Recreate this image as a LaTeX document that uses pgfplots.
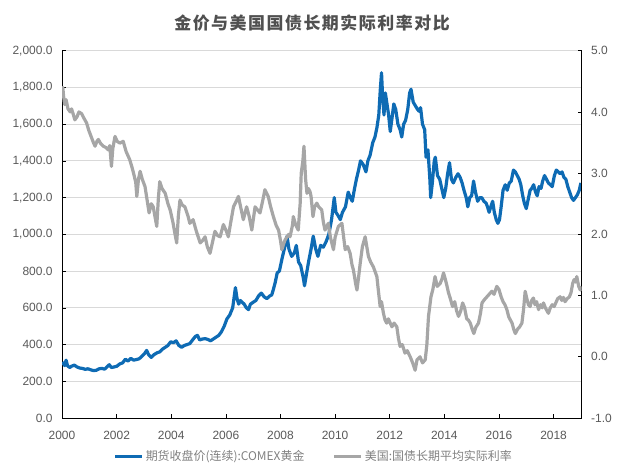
\documentclass[border=0pt]{standalone}
\usepackage{fontspec}
\setmainfont{Liberation Sans}
\newfontfamily\cjk{Noto Sans CJK SC}
\newfontfamily\cjktitle[LetterSpace=9]{Noto Sans CJK SC}
\usepackage{pgfplots}
\usepackage{pgfplotstable}
\pgfplotsset{compat=1.18}
\definecolor{goldblue}{RGB}{14,107,180}
\definecolor{rategray}{RGB}{166,166,166}
\definecolor{gridgray}{RGB}{217,217,217}
\definecolor{labelgray}{RGB}{89,89,89}
\definecolor{leggray}{RGB}{128,128,128}
\definecolor{titlegray}{RGB}{80,80,80}

\pgfplotstableread{
x y
2000.00 290
2000.05 300
2000.10 285
2000.15 315
2000.20 285
2000.28 275
2000.35 282
2000.45 288
2000.55 278
2000.65 272
2000.75 270
2000.85 265
2000.95 268
2001.06 262
2001.16 258
2001.26 260
2001.36 268
2001.46 270
2001.56 266
2001.66 280
2001.73 290
2001.81 275
2001.91 278
2002.01 282
2002.12 295
2002.22 300
2002.32 320
2002.42 310
2002.52 325
2002.62 315
2002.72 318
2002.82 322
2002.92 335
2003.02 350
2003.10 368
2003.17 345
2003.27 330
2003.37 345
2003.48 355
2003.58 360
2003.68 375
2003.78 385
2003.88 395
2003.98 415
2004.08 410
2004.18 420
2004.28 395
2004.38 385
2004.48 395
2004.58 400
2004.68 405
2004.78 425
2004.89 445
2004.96 450
2005.04 425
2005.14 430
2005.24 432
2005.34 428
2005.44 420
2005.54 430
2005.64 440
2005.74 450
2005.84 470
2005.94 500
2006.04 540
2006.14 560
2006.25 600
2006.35 710
2006.41 650
2006.47 620
2006.53 640
2006.60 630
2006.67 620
2006.75 600
2006.83 590
2006.90 620
2007.00 630
2007.10 640
2007.20 665
2007.30 680
2007.40 660
2007.50 650
2007.61 665
2007.68 670
2007.74 700
2007.81 740
2007.88 790
2007.96 800
2008.06 870
2008.14 920
2008.24 990
2008.31 920
2008.41 880
2008.51 900
2008.58 940
2008.66 850
2008.74 830
2008.84 760
2008.88 720
2008.97 800
2009.04 860
2009.12 920
2009.20 990
2009.29 920
2009.37 880
2009.47 940
2009.57 930
2009.67 960
2009.77 1000
2009.87 1080
2009.97 1200
2010.03 1120
2010.12 1100
2010.19 1080
2010.27 1120
2010.38 1150
2010.48 1230
2010.56 1200
2010.63 1180
2010.70 1240
2010.78 1300
2010.86 1350
2010.93 1400
2011.03 1380
2011.13 1340
2011.20 1400
2011.28 1430
2011.38 1500
2011.46 1530
2011.53 1580
2011.60 1650
2011.66 1800
2011.70 1880
2011.74 1750
2011.79 1650
2011.84 1770
2011.89 1720
2011.96 1650
2012.02 1560
2012.09 1640
2012.15 1710
2012.22 1680
2012.30 1600
2012.38 1570
2012.44 1530
2012.51 1600
2012.58 1620
2012.66 1680
2012.73 1770
2012.78 1790
2012.86 1720
2012.94 1700
2013.02 1680
2013.08 1670
2013.13 1690
2013.20 1600
2013.28 1570
2013.33 1420
2013.40 1460
2013.47 1300
2013.50 1200
2013.56 1280
2013.63 1400
2013.67 1420
2013.75 1320
2013.83 1300
2013.92 1240
2013.98 1200
2014.05 1250
2014.12 1330
2014.19 1390
2014.26 1300
2014.33 1280
2014.42 1310
2014.50 1330
2014.58 1310
2014.65 1280
2014.72 1240
2014.80 1200
2014.86 1150
2014.93 1200
2015.00 1210
2015.07 1290
2015.14 1230
2015.22 1180
2015.30 1200
2015.37 1200
2015.45 1180
2015.53 1170
2015.58 1150
2015.64 1120
2015.70 1150
2015.77 1180
2015.83 1120
2015.90 1080
2015.96 1060
2016.02 1080
2016.08 1150
2016.15 1240
2016.23 1270
2016.30 1240
2016.38 1280
2016.45 1290
2016.53 1350
2016.60 1340
2016.67 1320
2016.74 1300
2016.80 1270
2016.87 1210
2016.93 1170
2017.00 1140
2017.07 1190
2017.14 1240
2017.20 1250
2017.27 1270
2017.34 1230
2017.40 1210
2017.47 1260
2017.54 1250
2017.60 1290
2017.67 1320
2017.74 1300
2017.81 1280
2017.88 1270
2017.95 1260
2018.03 1320
2018.10 1350
2018.17 1340
2018.24 1330
2018.31 1340
2018.38 1310
2018.45 1300
2018.52 1260
2018.59 1230
2018.66 1200
2018.73 1185
2018.80 1200
2018.87 1215
2018.94 1240
2019.00 1280
}\golddata

\pgfplotstableread{
x y
2000.00 4.30
2000.03 4.40
2000.06 4.25
2000.10 4.12
2000.15 4.20
2000.22 4.05
2000.30 4.00
2000.35 4.05
2000.42 3.95
2000.47 3.87
2000.55 3.92
2000.62 4.00
2000.72 3.97
2000.80 3.90
2000.90 3.82
2000.98 3.70
2001.09 3.57
2001.15 3.50
2001.21 3.44
2001.28 3.52
2001.33 3.55
2001.42 3.48
2001.51 3.44
2001.60 3.42
2001.69 3.38
2001.75 3.45
2001.81 3.11
2001.86 3.40
2001.94 3.60
2002.02 3.52
2002.12 3.49
2002.24 3.52
2002.35 3.35
2002.48 3.22
2002.56 3.10
2002.62 3.00
2002.70 2.85
2002.74 2.62
2002.80 2.90
2002.86 3.03
2002.94 2.90
2003.04 2.78
2003.12 2.55
2003.19 2.35
2003.27 2.50
2003.34 2.45
2003.40 2.30
2003.47 2.13
2003.53 2.60
2003.58 2.86
2003.66 2.75
2003.78 2.67
2003.88 2.50
2003.96 2.40
2004.06 2.20
2004.14 2.00
2004.20 1.86
2004.26 2.30
2004.32 2.56
2004.40 2.48
2004.50 2.45
2004.62 2.29
2004.68 2.18
2004.80 2.24
2004.92 2.05
2005.06 1.86
2005.15 1.90
2005.24 1.96
2005.32 1.80
2005.42 1.69
2005.50 1.85
2005.60 2.05
2005.70 1.98
2005.79 1.96
2005.91 2.16
2006.02 2.05
2006.09 1.96
2006.18 2.20
2006.28 2.45
2006.39 2.55
2006.46 2.62
2006.54 2.45
2006.64 2.24
2006.76 2.45
2006.85 2.30
2006.95 2.07
2007.07 2.45
2007.16 2.40
2007.25 2.35
2007.35 2.55
2007.43 2.73
2007.55 2.62
2007.64 2.45
2007.74 2.29
2007.84 2.15
2007.93 2.07
2008.00 1.90
2008.05 1.75
2008.12 1.85
2008.17 1.91
2008.30 2.00
2008.35 1.96
2008.44 2.15
2008.47 2.29
2008.56 2.15
2008.65 2.07
2008.72 2.50
2008.76 3.00
2008.82 3.20
2008.86 3.44
2008.92 2.90
2008.97 2.67
2009.02 2.75
2009.08 2.70
2009.12 2.62
2009.19 2.29
2009.25 2.45
2009.33 2.51
2009.40 2.45
2009.51 2.40
2009.57 2.20
2009.63 2.07
2009.75 2.18
2009.83 1.95
2009.94 1.75
2010.00 1.95
2010.12 2.13
2010.25 2.18
2010.30 2.00
2010.37 1.75
2010.46 1.80
2010.55 1.69
2010.62 1.50
2010.67 1.42
2010.75 1.20
2010.80 1.09
2010.86 1.30
2010.92 1.53
2011.00 1.80
2011.10 1.96
2011.16 1.80
2011.22 1.64
2011.30 1.55
2011.40 1.47
2011.53 1.31
2011.58 1.10
2011.65 0.82
2011.70 0.90
2011.77 0.71
2011.83 0.60
2011.89 0.55
2011.95 0.62
2012.08 0.49
2012.16 0.55
2012.26 0.49
2012.32 0.30
2012.38 0.17
2012.46 0.20
2012.56 0.06
2012.64 0.10
2012.75 0.00
2012.84 -0.10
2012.93 -0.22
2013.00 -0.05
2013.11 0.00
2013.20 -0.10
2013.30 -0.05
2013.36 0.20
2013.42 0.66
2013.51 0.98
2013.58 1.10
2013.66 1.31
2013.74 1.15
2013.85 1.20
2013.92 1.28
2013.97 1.37
2014.04 1.26
2014.10 1.15
2014.15 1.05
2014.22 0.95
2014.30 0.82
2014.38 0.90
2014.45 0.75
2014.52 0.66
2014.60 0.75
2014.67 0.88
2014.74 0.80
2014.82 0.62
2014.88 0.60
2014.95 0.55
2015.02 0.45
2015.08 0.38
2015.15 0.48
2015.25 0.55
2015.32 0.70
2015.38 0.88
2015.46 0.93
2015.56 0.98
2015.64 1.02
2015.74 1.07
2015.82 1.02
2015.92 1.15
2016.00 1.10
2016.08 0.98
2016.15 0.90
2016.22 0.85
2016.29 0.77
2016.36 0.65
2016.42 0.60
2016.48 0.55
2016.54 0.45
2016.60 0.38
2016.68 0.45
2016.76 0.49
2016.84 0.55
2016.90 0.77
2016.96 1.07
2017.02 0.95
2017.08 0.85
2017.14 0.82
2017.20 0.92
2017.26 0.96
2017.32 0.85
2017.38 0.90
2017.45 0.77
2017.52 0.85
2017.58 0.80
2017.63 0.88
2017.70 0.80
2017.76 0.75
2017.81 0.71
2017.88 0.80
2017.95 0.85
2018.02 0.82
2018.08 0.88
2018.15 0.95
2018.24 0.98
2018.30 0.92
2018.36 0.97
2018.42 0.90
2018.50 0.95
2018.58 0.98
2018.64 1.05
2018.70 1.20
2018.75 1.26
2018.80 1.22
2018.85 1.31
2018.92 1.15
2018.98 1.09
2019.02 1.15
}\ratedata

\begin{document}
\begin{tikzpicture}
\useasboundingbox (0,0) rectangle (624bp,476bp);
\pgfplotsset{
  common/.style={
    at={(62bp,58bp)}, anchor=south west,
    width=519.7bp, height=367.3bp, scale only axis,
    xmin=2000, xmax=2019.03,
    tick align=inside,
    major tick length=4bp,
    tick style={black, line width=0.6bp},
    axis line style={black, line width=0.8bp},
    tick label style={font=\fontsize{12}{14}\selectfont, text=labelgray},
    /pgf/number format/assume math mode=true,
  },
}
\begin{axis}[
  common,
  axis x line*=bottom, axis y line*=left,
  ymin=0, ymax=2000,
  ytick={0,200,...,2000},
  xtick={2000,2002,...,2018},
  ymajorgrids,
  grid style={gridgray, line width=0.8bp},
  x tick label style={yshift=-10bp, /pgf/number format/.cd, 1000 sep={}},
  y tick label style={xshift=-6bp, /pgf/number format/.cd, fixed, fixed zerofill, precision=1, 1000 sep={,}},
]
\addplot[goldblue, line width=3.2bp, line join=round] table[x=x,y=y] {\golddata};
\end{axis}
\begin{axis}[
  common,
  axis y line*=right, axis x line=none,
  ymin=-1, ymax=5,
  ytick={-1,0,...,5},
  y tick label style={xshift=6bp, /pgf/number format/.cd, fixed, fixed zerofill, precision=1},
  legend style={draw=none, fill=none, at={(0.484,-0.105)}, anchor=center,
    legend columns=2, font=\cjk\fontsize{12}{14}\selectfont, text=leggray,
    /tikz/every even column/.append style={column sep=26bp},
    inner sep=0pt},
  legend cell align=left,
  legend image code/.code={\draw[#1, line width=3.5bp] (0bp,0bp) -- (27bp,0bp);},
]
\addlegendimage{goldblue}
\addlegendentry{期货收盘价(连续):COMEX黄金}
\addplot[rategray, line width=3.2bp, line join=round] table[x=x,y=y] {\ratedata};
\addlegendentry{美国:国债长期平均实际利率}
\end{axis}
\node[text=titlegray, font=\cjktitle\bfseries\fontsize{17}{20}\selectfont] at (312bp,453bp) {金价与美国国债长期实际利率对比};
\end{tikzpicture}
\end{document}
